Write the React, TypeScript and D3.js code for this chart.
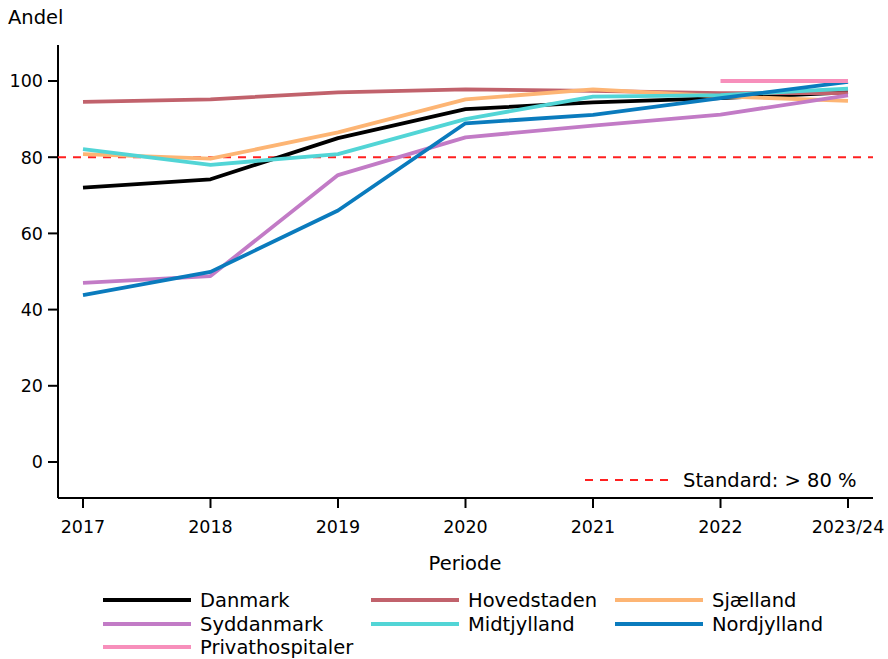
import React from "react";
import * as d3 from "d3";

const periods = ["2017", "2018", "2019", "2020", "2021", "2022", "2023/24"];
const danmark = [72, 74.2, 85, 92.6, 94.4, 95.5, 97];
const hovedstaden = [94.5, 95.2, 97, 97.8, 97.4, 96.8, 96.8];
const sjaelland = [80.8, 79.6, 86.5, 95.2, 97.8, 96, 94.8];
const syddanmark = [47, 48.8, 75.3, 85.2, 88.3, 91.2, 96.2];
const midtjylland = [82.1, 78, 80.8, 90, 95.9, 96.3, 98];
const nordjylland = [43.8, 49.9, 66, 88.9, 91.1, 95.5, 99.8];
const privathospitaler: (number | null)[] = [null, null, null, null, null, 100, 100];
const yTicks = [0, 20, 40, 60, 80, 100];
const standardValue = 80;

const series = [
  { name: "Danmark", values: danmark, color: "#000000" },
  { name: "Hovedstaden", values: hovedstaden, color: "#c1626c" },
  { name: "Sjælland", values: sjaelland, color: "#fdb574" },
  { name: "Syddanmark", values: syddanmark, color: "#c27bc6" },
  { name: "Midtjylland", values: midtjylland, color: "#52d5d6" },
  { name: "Nordjylland", values: nordjylland, color: "#0a7bbd" },
  { name: "Privathospitaler", values: privathospitaler, color: "#f78fbb" },
];

const FONT = "DejaVu Sans, sans-serif";

export default function App() {
  const x = d3.scaleLinear().domain([-0.196, 6.196]).range([58, 873]);
  const y = d3.scaleLinear().domain([-9.45, 109.45]).range([498, 45]);
  const line = d3
    .line<number | null>()
    .defined((d) => d !== null)
    .x((_, i) => x(i))
    .y((d) => y(d as number));

  const legendCols = [103, 371, 615];
  const legendTextDx = 97;
  const legendLineLen = 88;
  const legendRows = [600, 624, 647];

  return (
    <div style={{ position: "absolute", left: 0, top: 0 }}>
      <svg width={888} height={659} style={{ display: "block", background: "#fff" }} fontFamily={FONT}>
        <rect width={888} height={659} fill="#fff" />
        {/* y axis */}
        <line x1={x.range()[0]} x2={x.range()[0]} y1={y.range()[1]} y2={y.range()[0]} stroke="#000" strokeWidth={2} />
        {yTicks.map((t) => (
          <g key={t}>
            <line x1={x.range()[0] - 10} x2={x.range()[0]} y1={y(t)} y2={y(t)} stroke="#000" strokeWidth={2} />
            <text x={x.range()[0] - 15} y={y(t)} dy="0.36em" textAnchor="end" fontSize={17.5} fill="#000">
              {t}
            </text>
          </g>
        ))}
        {/* x axis */}
        <line x1={x.range()[0]} x2={x.range()[1]} y1={y.range()[0]} y2={y.range()[0]} stroke="#000" strokeWidth={2} />
        {periods.map((p, i) => (
          <g key={p}>
            <line x1={x(i)} x2={x(i)} y1={y.range()[0]} y2={y.range()[0] + 10} stroke="#000" strokeWidth={2} />
            <text x={x(i)} y={y.range()[0] + 35} textAnchor="middle" fontSize={17.5} fill="#000">
              {p}
            </text>
          </g>
        ))}
        <text x={8} y={24} fontSize={19.5} fill="#000">Andel</text>
        <text x={465} y={570} textAnchor="middle" fontSize={19.5} fill="#000">Periode</text>

        {/* standard line */}
        <line
          x1={x.range()[0]}
          x2={x.range()[1]}
          y1={y(standardValue)}
          y2={y(standardValue)}
          stroke="#ff2020"
          strokeWidth={2}
          strokeDasharray="8,7"
        />

        {series.map((s) => (
          <path key={s.name} d={line(s.values) || ""} fill="none" stroke={s.color} strokeWidth={3.8} strokeLinejoin="round" />
        ))}

        {/* standard legend */}
        <line x1={585} x2={673} y1={480} y2={480} stroke="#ff2020" strokeWidth={2} strokeDasharray="8,7" />
        <text x={683} y={487} fontSize={19.5} fill="#000">Standard: &gt; 80 %</text>

        {/* series legend */}
        {series.map((s, i) => {
          const col = i % 3;
          const row = Math.floor(i / 3);
          const lx = legendCols[col];
          const ly = legendRows[row];
          return (
            <g key={s.name}>
              <line x1={lx} x2={lx + legendLineLen} y1={ly} y2={ly} stroke={s.color} strokeWidth={4} />
              <text x={lx + legendTextDx} y={ly + 6.5} fontSize={19.5} fill="#000">{s.name}</text>
            </g>
          );
        })}
      </svg>
    </div>
  );
}
